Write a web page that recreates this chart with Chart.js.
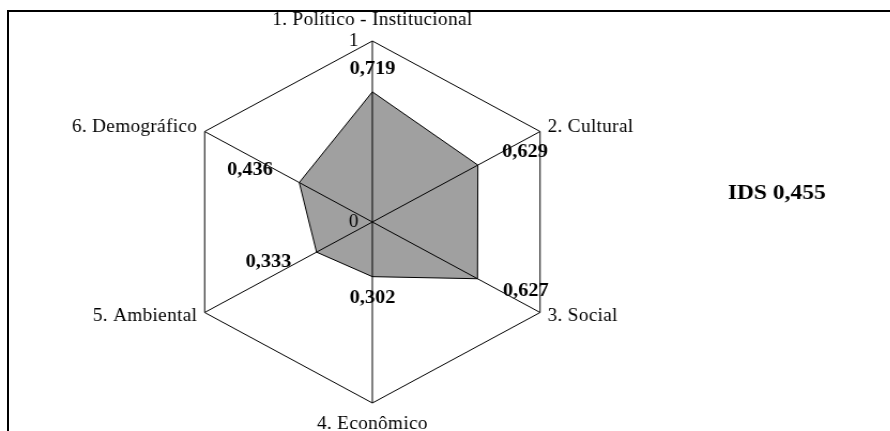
<!DOCTYPE html>
<html lang="pt">

<head>
  <meta charset="UTF-8">
  <title>IDS - Radar das dimensões</title>
  <script src="https://cdn.jsdelivr.net/npm/chart.js"></script>
  <style>
    html,
    body {
      margin: 0;
      padding: 0;
      background: #fff;
      overflow: hidden;
    }

    #moldura {
      position: absolute;
      left: 7px;
      top: 10px;
      width: 900px;
      height: 440px;
      border: 2px solid #000;
    }

    /* o original está levemente esticado na horizontal */
    #chart-container {
      position: absolute;
      left: 0;
      top: 0;
      width: 832px;
      height: 431px;
      transform: scaleX(1.07);
      transform-origin: 0 0;
    }
  </style>
</head>

<body>
  <div id="moldura"></div>
  <div id="chart-container">
    <canvas id="idsRadar"></canvas>
  </div>

  <script>
    const dimensoes = ['1. Político - Institucional', '2. Cultural', '3. Social', '4. Econômico', '5. Ambiental', '6. Demográfico'];
    const valores = [0.719, 0.629, 0.627, 0.302, 0.333, 0.436];
    const escala = ['0', '1'];
    const ids = 0.455;

    const virgula = v => v.toFixed(3).replace('.', ',');

    const rotulosPlugin = {
      id: 'rotulos',
      afterDraw(chart, args, opts) {
        const ctx = chart.ctx;
        const r = chart.scales.r;
        ctx.save();
        ctx.fillStyle = '#000';
        ctx.textBaseline = 'middle';

        // nomes das dimensões
        ctx.font = '18px "Liberation Serif", "Times New Roman", serif';
        ctx.letterSpacing = '0.3px';
        chart.data.labels.forEach((nome, i) => {
          const s = Math.sin(r.getIndexAngle(i));
          const vertical = Math.abs(s) < 0.01;
          const p = r.getPointPosition(i, r.drawingArea + (vertical ? opts.padV : opts.padH));
          ctx.textAlign = vertical ? 'center' : (s > 0 ? 'left' : 'right');
          ctx.fillText(nome, p.x, p.y);
        });
        ctx.letterSpacing = '0px';

        // marcas 0 e 1 da escala
        ctx.textAlign = 'right';
        r.ticks.forEach((t, i) => {
          const p = r.getPointPositionForValue(0, t.value);
          ctx.fillText(escala[i], p.x - 13, p.y);
        });

        // valores
        ctx.font = 'bold 19px "Liberation Serif", "Times New Roman", serif';
        ctx.textAlign = 'center';
        const meta = chart.getDatasetMeta(0);
        meta.data.forEach((pt, i) => {
          const d = opts.offsets[i];
          ctx.fillText(virgula(chart.data.datasets[0].data[i]), pt.x + d[0], pt.y + d[1]);
        });

        // índice geral
        ctx.font = 'bold 22px "Liberation Serif", "Times New Roman", serif';
        ctx.fillText('IDS ' + virgula(ids), opts.idsX, opts.idsY);
        ctx.restore();
      }
    };

    const ctx = document.getElementById('idsRadar').getContext('2d');
    new Chart(ctx, {
      type: 'radar',
      data: {
        labels: dimensoes,
        datasets: [{
          data: valores,
          backgroundColor: '#a0a0a0',
          borderColor: '#000',
          borderWidth: 1,
          pointRadius: 0,
          tension: 0
        }]
      },
      options: {
        responsive: true,
        maintainAspectRatio: false,
        animation: false,
        layout: {
          padding: { left: 167, right: 303, top: 41, bottom: 28 }
        },
        scales: {
          r: {
            min: 0,
            max: 1,
            ticks: { stepSize: 1, display: false },
            grid: { color: '#000', lineWidth: 1, z: 1 },
            angleLines: { color: '#000', lineWidth: 1 },
            pointLabels: { display: false }
          }
        },
        plugins: {
          legend: { display: false },
          tooltip: { enabled: false },
          rotulos: {
            padV: 21,
            padH: 8,
            offsets: [[0, -23], [44, -13], [45, 12], [0, 21], [-45, 10], [-46, -12]],
            idsX: 726,
            idsY: 193
          }
        }
      },
      plugins: [rotulosPlugin]
    });
  </script>
</body>

</html>
